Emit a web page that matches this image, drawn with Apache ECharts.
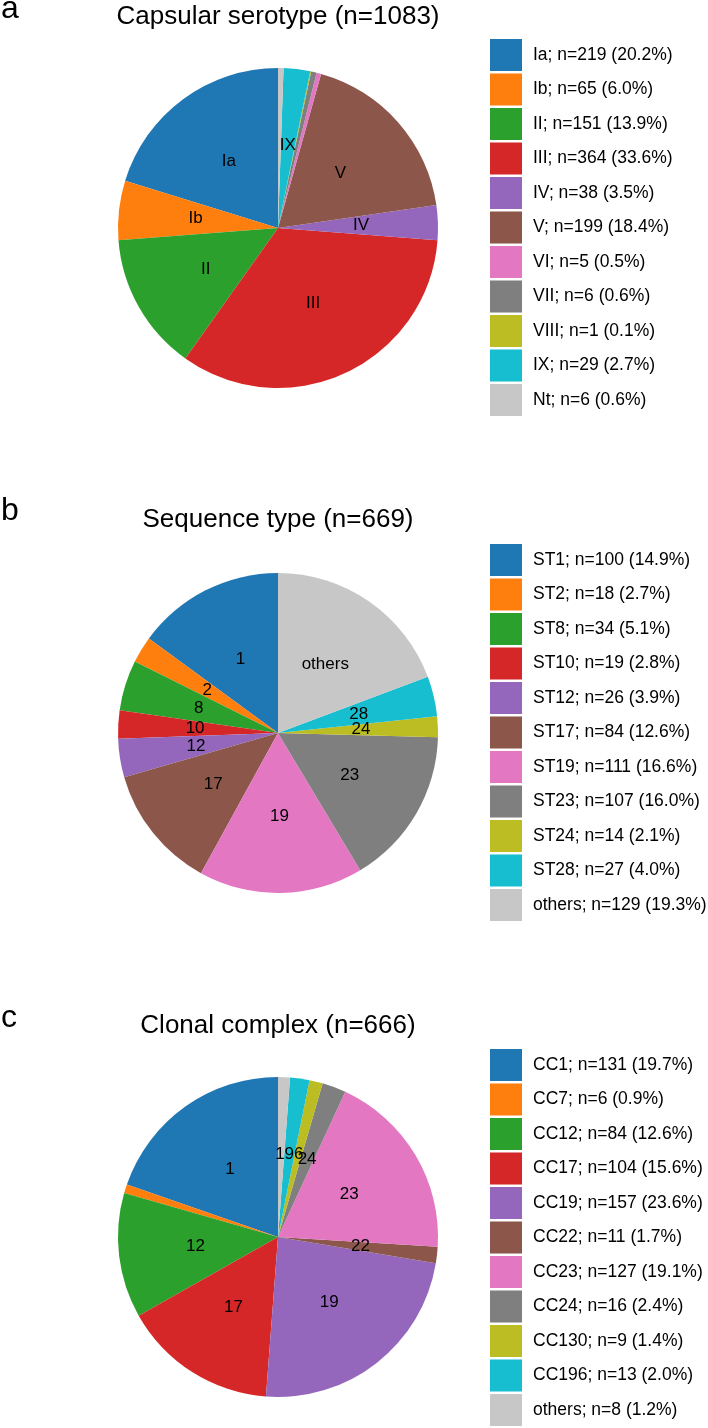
<!DOCTYPE html>
<html><head><meta charset="utf-8">
<script src="https://cdn.jsdelivr.net/npm/echarts@6/dist/echarts.min.js"></script>
<style>html,body{margin:0;padding:0;background:#fff}#c{width:708px;height:1428px}</style>
</head><body><div id="c"></div>
<script>
// Panel a: capsular serotype
const serotypeCats = ['Ia','Ib','II','III','IV','V','VI','VII','VIII','IX','Nt'];
const serotypeVals = [219,65,151,364,38,199,5,6,1,29,6];
const serotypeLabels = ['Ia','Ib','II','III','IV','V','','','','IX',''];
// Panel b: sequence type
const stCats = ['ST1','ST2','ST8','ST10','ST12','ST17','ST19','ST23','ST24','ST28','others'];
const stVals = [100,18,34,19,26,84,111,107,14,27,129];
const stLabels = ['1','2','8','10','12','17','19','23','24','28','others'];
// Panel c: clonal complex
const ccCats = ['CC1','CC7','CC12','CC17','CC19','CC22','CC23','CC24','CC130','CC196','others'];
const ccVals = [131,6,84,104,157,11,127,16,9,13,8];
const ccLabels = ['1','','12','17','19','22','23','24','','196',''];

const colors = ['#1f77b4','#ff7f0e','#2ca02c','#d62728','#9467bd','#8c564b','#e377c2','#7f7f7f','#bcbd22','#17becf','#c7c7c7'];
const FONT = '"Liberation Sans", Arial, sans-serif';

function legendNames(cats, vals){
  const tot = vals.reduce((a,b)=>a+b,0);
  return cats.map((c,i)=> c + '; n=' + vals[i] + ' (' + (vals[i]/tot*100).toFixed(1) + '%)');
}
const panels = [
  {cats: serotypeCats, vals: serotypeVals, labels: serotypeLabels, title: 'Capsular serotype (n=1083)', letter: 'a', cy: 228, ty: 17, ly: 9, legTop: 39},
  {cats: stCats, vals: stVals, labels: stLabels, title: 'Sequence type (n=669)', letter: 'b', cy: 733, ty: 520, ly: 511, legTop: 544},
  {cats: ccCats, vals: ccVals, labels: ccLabels, title: 'Clonal complex (n=666)', letter: 'c', cy: 1237, ty: 1026, ly: 1018, legTop: 1049}
];

const series = [], legends = [], graphics = [];
panels.forEach((p, k) => {
  const names = legendNames(p.cats, p.vals);
  series.push({
    type: 'pie', center: [278, p.cy], radius: 160, startAngle: 90, clockwise: false,
    animation: false, silent: true, avoidLabelOverlap: false,
    itemStyle: {borderWidth: 0},
    label: {show: true, position: 'inside', color: '#000', fontSize: 17, fontFamily: FONT,
      formatter: (prm) => p.labels[prm.dataIndex]},
    labelLayout: {hideOverlap: false},
    labelLine: {show: false},
    data: names.map((n, i) => ({name: n, value: p.vals[i], itemStyle: {color: colors[i]}}))
  });
  legends.push({
    orient: 'vertical', left: 490, top: p.legTop, padding: 0,
    itemWidth: 32, itemHeight: 32, itemGap: 2.5, icon: 'rect', selectedMode: false,
    textStyle: {fontSize: 17.5, color: '#000', fontFamily: FONT, padding: [0,0,0,6]},
    data: names
  });
  graphics.push({type: 'text', x: 278, y: p.ty, style: {text: p.title, fontSize: 26, fontFamily: FONT, fill: '#000', align: 'center', verticalAlign: 'middle'}});
  graphics.push({type: 'text', x: 1, y: p.ly, style: {text: p.letter, fontSize: 32, fontFamily: FONT, fill: '#000', align: 'left', verticalAlign: 'middle'}});
});

const chart = echarts.init(document.getElementById('c'), null, {renderer: 'canvas'});
chart.setOption({
  backgroundColor: '#fff', animation: false,
  legend: legends, series: series, graphic: graphics
});
</script></body></html>
